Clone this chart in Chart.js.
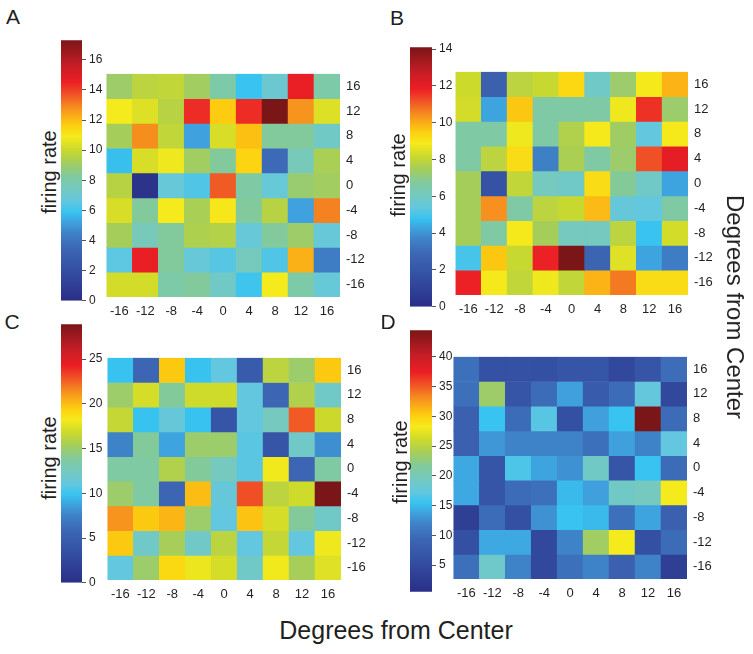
<!DOCTYPE html>
<html>
<head>
<meta charset="utf-8">
<script src="https://cdn.jsdelivr.net/npm/chart.js@4/dist/chart.umd.min.js"></script>
<style>
body{margin:0;background:#fff;width:753px;height:654px;position:relative;overflow:hidden;font-family:"Liberation Sans",Arial,sans-serif;color:#231f20}
.box{position:absolute}
.t{position:absolute;white-space:nowrap;line-height:1}
.rot{transform:translate(-50%,-50%) rotate(-90deg)}
.rot90{transform:translate(-50%,-50%) rotate(90deg)}
.ctr{transform:translate(-50%,-50%)}
</style>
</head>
<body>
<div class="box" style="left:61px;top:30px"><canvas id="cbA" width="51" height="281"></canvas></div>
<div class="box" style="left:410px;top:37px"><canvas id="cbB" width="52" height="280"></canvas></div>
<div class="box" style="left:61px;top:314px"><canvas id="cbC" width="51" height="279"></canvas></div>
<div class="box" style="left:410px;top:320px"><canvas id="cbD" width="52" height="282"></canvas></div>

<div class="box" style="left:103px;top:60px"><canvas id="hmA" width="282" height="272"></canvas></div>
<div class="box" style="left:452px;top:58px"><canvas id="hmB" width="281" height="272"></canvas></div>
<div class="box" style="left:104px;top:344px"><canvas id="hmC" width="282" height="271"></canvas></div>
<div class="box" style="left:450px;top:343px"><canvas id="hmD" width="282" height="271"></canvas></div>

<div class="t ctr" style="left:13px;top:16px;font-size:21px">A</div>
<div class="t ctr" style="left:397px;top:17px;font-size:21px">B</div>
<div class="t ctr" style="left:12px;top:321px;font-size:21px">C</div>
<div class="t ctr" style="left:388px;top:321px;font-size:21px">D</div>

<div class="t rot" style="left:49px;top:172px;font-size:20px">firing rate</div>
<div class="t rot" style="left:398px;top:175px;font-size:20px">firing rate</div>
<div class="t rot" style="left:49px;top:458px;font-size:20px">firing rate</div>
<div class="t rot" style="left:400px;top:462px;font-size:20px">firing rate</div>

<div class="t ctr" style="left:396px;top:630px;font-size:25px">Degrees from Center</div>
<div class="t rot90" style="left:735px;top:307px;font-size:24px">Degrees from Center</div>

<script>
const xLabels = ['-16', '-12', '-8', '-4', '0', '4', '8', '12', '16'];
const yLabels = ['16', '12', '8', '4', '0', '-4', '-8', '-12', '-16']; // top row first

// firing rate per cell, rows top (16) to bottom (-16), columns -16..16
const rateA = [
  [9.0, 9.7, 9.8, 9.1, 8.0, 5.9, 7.0, 14.6, 8.0],
  [10.9, 10.4, 9.6, 14.3, 11.7, 14.3, 17.3, 12.7, 10.4],
  [9.2, 12.8, 9.8, 5.2, 10.3, 11.9, 8.3, 8.3, 7.3],
  [5.8, 10.3, 10.8, 9.1, 8.3, 11.5, 3.6, 7.6, 9.3],
  [9.6, 0.3, 6.8, 6.3, 13.6, 8.1, 6.8, 8.9, 9.1],
  [10.3, 8.3, 10.9, 9.3, 11.0, 8.3, 9.6, 5.2, 13.0],
  [9.2, 7.6, 8.3, 9.4, 9.5, 6.8, 8.3, 9.0, 6.8],
  [6.5, 14.6, 8.3, 6.8, 6.4, 7.5, 6.3, 12.2, 4.3],
  [10.2, 10.2, 8.0, 8.3, 7.3, 6.0, 10.9, 8.0, 6.8]
];
const rateB = [
  [8.2, 2.5, 7.9, 8.1, 9.3, 5.9, 7.3, 8.9, 9.9],
  [8.3, 4.3, 9.6, 6.6, 6.6, 6.6, 8.8, 11.6, 7.3],
  [6.6, 6.6, 8.8, 6.6, 7.7, 8.9, 7.4, 5.4, 8.9],
  [6.6, 7.9, 9.2, 3.6, 7.6, 6.6, 7.3, 11.2, 12.0],
  [7.5, 1.8, 8.0, 6.1, 5.9, 9.2, 6.8, 5.9, 4.3],
  [7.5, 10.4, 6.6, 7.9, 8.1, 9.8, 5.5, 5.4, 6.6],
  [7.5, 6.6, 8.9, 7.5, 6.1, 6.1, 7.9, 4.8, 8.3],
  [5.0, 9.6, 8.1, 11.8, 14.1, 2.7, 8.5, 4.3, 3.5],
  [11.8, 8.9, 8.0, 8.8, 8.0, 9.9, 10.7, 9.2, 9.2]
];
const rateC = [
  [9.8, 5.8, 19.6, 9.8, 11.0, 4.6, 16.2, 15.0, 19.6],
  [15.0, 17.1, 13.9, 16.9, 16.9, 11.0, 5.8, 15.8, 12.1],
  [16.5, 9.8, 11.3, 9.8, 4.0, 11.0, 12.5, 22.7, 16.8],
  [7.5, 13.9, 8.8, 15.0, 15.0, 10.8, 4.0, 12.1, 8.0],
  [13.6, 13.6, 15.8, 13.9, 12.5, 10.8, 18.1, 5.8, 13.6],
  [15.0, 13.6, 5.8, 20.0, 11.3, 23.0, 16.2, 16.9, 28.9],
  [21.2, 19.6, 20.2, 15.0, 11.0, 19.8, 17.1, 13.9, 12.1],
  [19.6, 12.1, 15.4, 12.1, 16.2, 11.0, 16.5, 11.0, 18.0],
  [11.0, 15.0, 19.0, 17.9, 17.1, 12.1, 18.1, 15.4, 17.4]
];
const rateD = [
  [10.2, 6.0, 6.0, 5.8, 6.5, 6.5, 4.5, 6.5, 10.0],
  [10.2, 23.4, 6.5, 9.8, 13.7, 7.5, 9.8, 17.5, 4.5],
  [8.4, 15.5, 9.8, 16.8, 5.8, 13.7, 15.5, 44.5, 9.8],
  [8.4, 13.2, 11.9, 11.9, 11.9, 10.2, 13.7, 11.9, 17.2],
  [14.1, 6.5, 16.3, 13.9, 12.8, 19.0, 6.5, 15.5, 9.8],
  [14.1, 6.5, 9.8, 10.2, 15.0, 13.7, 19.0, 19.5, 28.2],
  [3.1, 9.8, 5.8, 12.8, 15.5, 15.0, 10.2, 13.9, 8.4],
  [5.8, 14.1, 14.1, 4.5, 11.9, 23.6, 28.2, 5.8, 9.8],
  [10.2, 18.8, 11.9, 4.5, 10.2, 11.9, 8.4, 11.9, 3.1]
];

// colour scale limits and colorbar tick labels
const rangeA = [0, 17.3], ticksA = [0, 2, 4, 6, 8, 10, 12, 14, 16];
const rangeB = [0, 14.1], ticksB = [0, 2, 4, 6, 8, 10, 12, 14];
const rangeC = [0, 28.9], ticksC = [0, 5, 10, 15, 20, 25];
const rangeD = [0.5, 44.5], ticksD = [5, 10, 15, 20, 25, 30, 35, 40];

// jet-like colormap used in the figure
const cmap = [
  [0, '#2a2e86'], [0.12, '#3450a3'], [0.2, '#3c66b3'], [0.26, '#3e82c8'], [0.3, '#3fa0dd'],
  [0.34, '#38c3f0'], [0.38, '#62c7df'], [0.43, '#74c9c0'], [0.48, '#82ca9c'], [0.53, '#a4cd5c'],
  [0.58, '#cbd92c'], [0.63, '#f5ea1c'], [0.67, '#fdd10f'], [0.71, '#faac18'], [0.75, '#f58420'],
  [0.79, '#f05526'], [0.84, '#ec1e25'], [0.9, '#c81d26'], [1, '#7a1618']
];

function hex(c) { return [1, 3, 5].map(i => parseInt(c.substr(i, 2), 16)); }
function colorAt(t) {
  t = Math.max(0, Math.min(1, t));
  for (let i = 1; i < cmap.length; i++) {
    if (t <= cmap[i][0]) {
      const a = cmap[i - 1], b = cmap[i];
      const f = (t - a[0]) / (b[0] - a[0]);
      const ca = hex(a[1]), cb = hex(b[1]);
      return 'rgb(' + ca.map((v, k) => Math.round(v + (cb[k] - v) * f)).join(',') + ')';
    }
  }
  return cmap[cmap.length - 1][1];
}

const txt = '#231f20';
const font = { family: '"Liberation Sans", Arial, sans-serif', size: 13 };
Chart.defaults.color = txt;

function heatmap(id, rows, range) {
  const n = rows.length;
  const datasets = rows.map((row, r) => {
    const lo = n - 1 - r;
    return {
      data: row.map(() => [lo, lo + 1]),
      backgroundColor: row.map(v => colorAt((v - range[0]) / (range[1] - range[0]))),
      borderWidth: 0,
      categoryPercentage: 1,
      barPercentage: 1,
      grouped: false
    };
  });
  new Chart(document.getElementById(id), {
    type: 'bar',
    data: { labels: xLabels, datasets: datasets },
    options: {
      responsive: false,
      animation: false,
      layout: { padding: 0, autoPadding: false },
      plugins: { legend: { display: false }, tooltip: { enabled: false } },
      scales: {
        x: {
          grid: { display: false, drawTicks: false },
          border: { display: false },
          ticks: { font: font, padding: 7, maxRotation: 0, autoSkip: false },
          afterFit: s => { s.height = 35; }
        },
        y: {
          type: 'linear', position: 'right', min: 0, max: n,
          grid: { display: false, drawTicks: false },
          border: { display: false },
          afterBuildTicks: s => { s.ticks = yLabels.map((_, i) => ({ value: n - 1 - i + 0.5 })); },
          ticks: { font: font, padding: 6, autoSkip: false, callback: v => yLabels[n - 1 - Math.floor(v)] },
          afterFit: s => { s.width = 45; }
        }
      }
    }
  });
}

function colorbar(id, range, ticks) {
  new Chart(document.getElementById(id), {
    type: 'bar',
    data: {
      labels: [''],
      datasets: [{
        data: [range],
        borderWidth: 0,
        categoryPercentage: 1,
        barPercentage: 1,
        backgroundColor: c => {
          const a = c.chart.chartArea;
          if (!a) return '#888';
          const g = c.chart.ctx.createLinearGradient(0, a.bottom, 0, a.top);
          cmap.forEach(([t, col]) => g.addColorStop(t, col));
          return g;
        }
      }]
    },
    options: {
      responsive: false,
      animation: false,
      layout: { padding: { top: 8, bottom: 8 }, autoPadding: false },
      plugins: { legend: { display: false }, tooltip: { enabled: false } },
      scales: {
        x: { display: false },
        y: {
          position: 'right', min: range[0], max: range[1],
          grid: { drawOnChartArea: false, tickLength: 4, color: '#555' },
          border: { display: false },
          afterBuildTicks: s => { s.ticks = ticks.map(v => ({ value: v })); },
          ticks: { font: { family: font.family, size: 12 }, padding: 3 },
          afterFit: s => { s.width = 30; }
        }
      }
    }
  });
}

colorbar('cbA', rangeA, ticksA);
colorbar('cbB', rangeB, ticksB);
colorbar('cbC', rangeC, ticksC);
colorbar('cbD', rangeD, ticksD);
heatmap('hmA', rateA, rangeA);
heatmap('hmB', rateB, rangeB);
heatmap('hmC', rateC, rangeC);
heatmap('hmD', rateD, rangeD);
</script>
</body>
</html>
